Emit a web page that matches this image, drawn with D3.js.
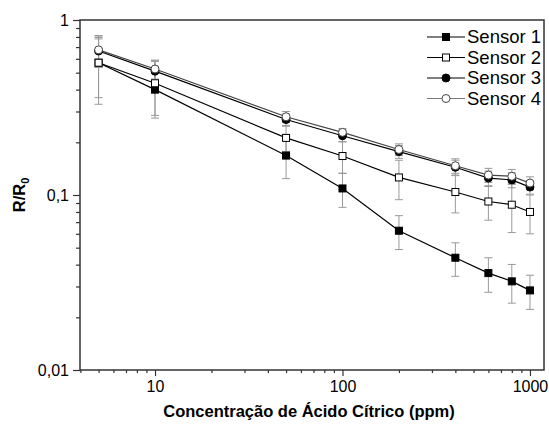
<!DOCTYPE html>
<html>
<head>
<meta charset="utf-8">
<script src="https://cdn.jsdelivr.net/npm/d3@7"></script>
<style>
  body { margin: 0; background: #fff; }
  text { font-family: Arial, "Liberation Sans", sans-serif; }
</style>
</head>
<body>
<div id="chart"></div>
<script>
var CONC = [5, 10, 50, 100, 200, 400, 600, 800, 1000];
var SENSOR1 = [0.57, 0.40, 0.168, 0.109, 0.0625, 0.0438, 0.0358, 0.0321, 0.0285];
var SENSOR1_ERR = [0.24, 0.125, 0.044, 0.024, 0.0137, 0.0095, 0.008, 0.008, 0.0063];
var SENSOR2 = [0.57, 0.435, 0.212, 0.167, 0.126, 0.104, 0.0918, 0.088, 0.080];
var SENSOR2_ERR = [0.21, 0.15, 0.035, 0.034, 0.032, 0.025, 0.02, 0.027, 0.02];
var SENSOR3 = [0.665, 0.51, 0.27, 0.218, 0.177, 0.144, 0.125, 0.122, 0.111];
var SENSOR3_ERR = [0.13, 0.07, 0.02, 0.016, 0.015, 0.014, 0.012, 0.012, 0.01];
var SENSOR4 = [0.675, 0.525, 0.28, 0.228, 0.182, 0.147, 0.13, 0.128, 0.117];
var SENSOR4_ERR = [0.14, 0.065, 0.02, 0.012, 0.014, 0.014, 0.012, 0.012, 0.01];
var NAMES = ["Sensor 1", "Sensor 2", "Sensor 3", "Sensor 4"];
var X_TICKS = [10, 100, 1000];
var Y_TICKS = [0.01, 0.1, 1];
var Y_TICK_LABELS = ["0,01", "0,1", "1"];

var series = [
  {name: NAMES[0], values: SENSOR1, err: SENSOR1_ERR, shape: "square", fill: "#000", stroke: "#000"},
  {name: NAMES[1], values: SENSOR2, err: SENSOR2_ERR, shape: "square", fill: "#fff", stroke: "#000"},
  {name: NAMES[2], values: SENSOR3, err: SENSOR3_ERR, shape: "circle", fill: "#000", stroke: "#000"},
  {name: NAMES[3], values: SENSOR4, err: SENSOR4_ERR, shape: "circle", fill: "#fff", stroke: "#444"}
];

var W = 549, H = 425;
var margin = {top: 20, right: 5, bottom: 55, left: 80};
var width = W - margin.left - margin.right,
    height = H - margin.top - margin.bottom;

var svg = d3.select("#chart").append("svg")
    .attr("width", W)
    .attr("height", H);

var g = svg.append("g")
    .attr("transform", "translate(" + margin.left + "," + margin.top + ")");

var x = d3.scaleLog().domain([3.98, 1188]).range([0, width]);
var y = d3.scaleLog().domain([0.01, 1]).range([height, 0]);

// minor ticks
var xMinor = [], yMinor = [];
[1, 10, 100, 1000].forEach(function(dec) {
  for (var k = 2; k <= 9; k++) {
    var v = dec * k;
    if (v > x.domain()[0] && v < x.domain()[1] && X_TICKS.indexOf(v) < 0) xMinor.push(v);
  }
});
[0.01, 0.1].forEach(function(dec) {
  for (var k = 2; k <= 9; k++) yMinor.push(dec * k);
});

var xAxis = d3.axisBottom(x).tickValues(X_TICKS).tickFormat(d3.format("d")).tickSize(6).tickPadding(5);
var xAxisMinor = d3.axisBottom(x).tickValues(xMinor).tickFormat("").tickSize(3);
var yAxis = d3.axisLeft(y).tickValues(Y_TICKS)
    .tickFormat(function(d, i) { return Y_TICK_LABELS[i]; }).tickSize(7).tickPadding(4);
var yAxisMinor = d3.axisLeft(y).tickValues(yMinor).tickFormat("").tickSize(4);

// frame
g.append("rect")
    .attr("width", width)
    .attr("height", height)
    .attr("fill", "none")
    .attr("stroke", "#333")
    .attr("stroke-width", 1.5);

[xAxis, xAxisMinor].forEach(function(ax) {
  g.append("g")
      .attr("class", "axis axis--x")
      .attr("transform", "translate(0," + height + ")")
      .call(ax);
});
[yAxis, yAxisMinor].forEach(function(ax) {
  g.append("g")
      .attr("class", "axis axis--y")
      .call(ax);
});

g.selectAll(".axis path").remove();
g.selectAll(".axis line").attr("stroke", "#333").attr("stroke-width", 1.2);
g.selectAll(".axis text")
    .attr("fill", "#000")
    .style("font-size", "16px");

// error bars
series.forEach(function(s) {
  var eb = g.append("g").attr("class", "errbars");
  CONC.forEach(function(c, i) {
    var cx = x(c), lo = y(Math.max(s.values[i] - s.err[i], 0.0101)), hi = y(s.values[i] + s.err[i]);
    eb.append("line").attr("x1", cx).attr("x2", cx).attr("y1", lo).attr("y2", hi);
    eb.append("line").attr("x1", cx - 4).attr("x2", cx + 4).attr("y1", lo).attr("y2", lo);
    eb.append("line").attr("x1", cx - 4).attr("x2", cx + 4).attr("y1", hi).attr("y2", hi);
  });
  eb.selectAll("line").attr("stroke", "#999").attr("stroke-width", 1);
});

var line = d3.line()
    .x(function(d) { return x(d[0]); })
    .y(function(d) { return y(d[1]); });

series.forEach(function(s) {
  g.append("path")
      .datum(CONC.map(function(c, i) { return [c, s.values[i]]; }))
      .attr("fill", "none")
      .attr("stroke", s.stroke)
      .attr("stroke-width", 1.2)
      .attr("d", line);
});

function marker(sel, s, cx, cy) {
  if (s.shape == "square") {
    sel.append("rect")
        .attr("x", cx - 3.5).attr("y", cy - 3.5)
        .attr("width", 7).attr("height", 7)
        .attr("fill", s.fill).attr("stroke", s.stroke).attr("stroke-width", 1);
  } else {
    sel.append("circle")
        .attr("cx", cx).attr("cy", cy).attr("r", 4)
        .attr("fill", s.fill).attr("stroke", s.stroke).attr("stroke-width", 1);
  }
}

series.forEach(function(s) {
  var mg = g.append("g").attr("class", "markers");
  CONC.forEach(function(c, i) {
    marker(mg, s, x(c), y(s.values[i]));
  });
});

// legend
var legend = svg.append("g").attr("transform", "translate(427,37)");
series.forEach(function(s, i) {
  var row = legend.append("g").attr("transform", "translate(0," + (i * 20.5) + ")");
  row.append("line")
      .attr("x1", 0).attr("x2", 38)
      .attr("stroke", i == 3 ? "#777" : "#000")
      .attr("stroke-width", 1.2);
  marker(row, s, 19, 0);
  row.append("text")
      .attr("x", 40)
      .attr("dy", "0.35em")
      .style("font-size", "18.5px")
      .text(s.name);
});

// axis titles
svg.append("text")
    .attr("x", 309)
    .attr("y", 417)
    .attr("text-anchor", "middle")
    .style("font-size", "16.5px")
    .style("font-weight", "bold")
    .text("Concentração de Ácido Cítrico (ppm)");

var yt = svg.append("text")
    .attr("transform", "translate(25," + 195 + ") rotate(-90)")
    .attr("text-anchor", "middle")
    .style("font-size", "16.5px")
    .style("font-weight", "bold");
yt.append("tspan").text("R/R");
yt.append("tspan").attr("dy", 4).style("font-size", "11px").text("0");
</script>
</body>
</html>
